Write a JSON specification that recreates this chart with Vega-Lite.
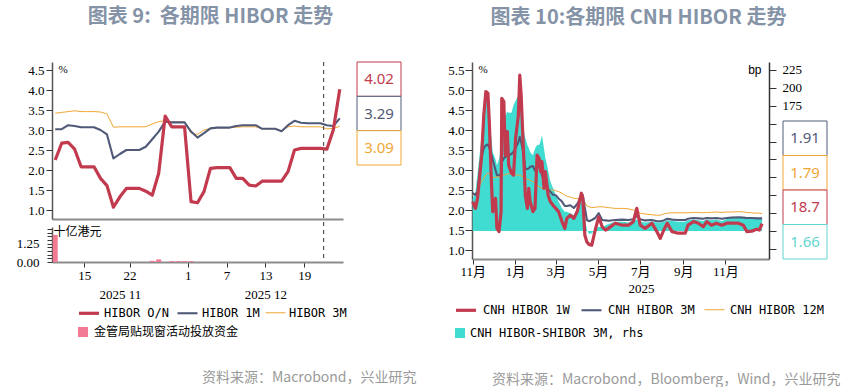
{
  "$schema": "https://vega.github.io/schema/vega-lite/v6.json",
  "background": "white",
  "padding": {"left": 16, "top": 7, "right": 0, "bottom": 0},
  "config": {
    "view": {"stroke": null},
    "font": "Noto Sans CJK SC",
    "axis": {"labelFont": "Liberation Serif, Noto Sans CJK SC", "labelFontSize": 13, "labelColor": "#000000", "grid": false, "tickColor": "#333333", "domainColor": "#555555", "labelFlush": false, "labelOverlap": false},
    "legend": {"orient": "none", "title": null, "padding": 0, "labelFont": "DejaVu Sans Mono, Noto Sans CJK SC", "labelFontSize": 12, "labelColor": "#000000", "labelLimit": 400, "direction": "horizontal"},
    "title": {"font": "Noto Sans CJK SC", "fontSize": 20, "fontWeight": "bold", "color": "#8593a7"}
  },
  "spacing": 30,
  "resolve": {"scale": {"color": "independent", "stroke": "independent", "fill": "independent", "strokeWidth": "independent"}, "legend": {"color": "independent", "stroke": "independent", "fill": "independent"}},
  "hconcat": [
    {
      "bounds": "flush",
      "spacing": 14,
      "resolve": {"scale": {"color": "independent", "stroke": "independent", "fill": "independent", "strokeWidth": "independent"}, "legend": {"color": "independent", "stroke": "independent", "fill": "independent"}},
      "hconcat": [
        {
          "width": 291,
          "height": 200,
          "title": {"text": "图表 9:\u00a0\u00a0各期限 HIBOR 走势", "anchor": "middle", "dx": 13, "offset": 34},
          "resolve": {"scale": {"y": "independent"}, "axis": {"x": "independent", "y": "independent"}},
          "layer": [
            {
              "data": {"values": [
                {"date": "2025-11-10T12:00:00", "value": 1.85},
                {"date": "2025-11-25T12:00:00", "value": 0.08},
                {"date": "2025-11-26T12:00:00", "value": 0.18},
                {"date": "2025-11-28T12:00:00", "value": 0.06},
                {"date": "2025-11-29T12:00:00", "value": 0.06},
                {"date": "2025-11-30T12:00:00", "value": 0.06},
                {"date": "2025-12-01T12:00:00", "value": 0.06}
              ]},
              "mark": {"type": "bar"},
              "encoding": {
                "x": {"field": "date", "type": "temporal",
                  "scale": {"domain": [{"year": 2025, "month": 11, "date": 10}, {"year": 2025, "month": 12, "date": 25}], "padding": 0},
                  "axis": {"orient": "bottom", "title": null, "format": "%-d",
                    "values": [{"year": 2025, "month": 11, "date": 15}, {"year": 2025, "month": 11, "date": 22}, {"year": 2025, "month": 12, "date": 1}, {"year": 2025, "month": 12, "date": 7}, {"year": 2025, "month": 12, "date": 13}, {"year": 2025, "month": 12, "date": 19}],
                    "domainColor": "#8c8c8c", "domainWidth": 2, "tickSize": 5, "labelPadding": 2}},
                "y": {"field": "value", "type": "quantitative",
                  "scale": {"domain": [0, 2.4], "range": [200, 165], "nice": false},
                  "axis": {"orient": "left", "values": [0, 0.25, 0.5, 0.75, 1, 1.25, 1.5, 1.75, 2, 2.25],
                    "labelExpr": "datum.value === 0 ? '0.00' : (datum.value === 1.25 ? '1.25' : '')",
                    "tickSize": 5, "labelPadding": 8, "domainWidth": 1.5,
                    "title": "十亿港元", "titleAngle": 0, "titleX": 1, "titleY": 169, "titleAlign": "left", "titleBaseline": "middle", "titleFont": "Noto Sans CJK SC", "titleFontSize": 12, "titleFontWeight": "normal", "titleColor": "#000000"}},
                "fill": {"datum": "hkma", "type": "nominal",
                  "scale": {"domain": ["hkma"], "range": ["#f27a93"]},
                  "legend": {"legendX": 25, "legendY": 264, "symbolType": "square", "symbolSize": 100, "symbolStrokeWidth": 0, "labelOffset": 5,
                    "labelExpr": "'金管局贴现窗活动投放资金'"}}
              }
            },
            {
              "data": {"values": [
                {"date": "2025-11-10T12:00:00", "on": 2.25, "m1": 3.02, "m3": 3.42},
                {"date": "2025-11-11T12:00:00", "on": 2.67, "m1": 3.02, "m3": 3.44},
                {"date": "2025-11-12T12:00:00", "on": 2.69, "m1": 3.12, "m3": 3.46},
                {"date": "2025-11-13T12:00:00", "on": 2.52, "m1": 3.10, "m3": 3.48},
                {"date": "2025-11-14T12:00:00", "on": 2.08, "m1": 3.07, "m3": 3.46},
                {"date": "2025-11-15T12:00:00", "on": 2.08, "m1": 3.07, "m3": 3.46},
                {"date": "2025-11-16T12:00:00", "on": 2.08, "m1": 3.07, "m3": 3.46},
                {"date": "2025-11-17T12:00:00", "on": 1.79, "m1": 3.00, "m3": 3.45},
                {"date": "2025-11-18T12:00:00", "on": 1.61, "m1": 2.89, "m3": 3.40},
                {"date": "2025-11-19T12:00:00", "on": 1.07, "m1": 2.29, "m3": 3.07},
                {"date": "2025-11-20T12:00:00", "on": 1.33, "m1": 2.40, "m3": 3.08},
                {"date": "2025-11-21T12:00:00", "on": 1.54, "m1": 2.50, "m3": 3.08},
                {"date": "2025-11-22T12:00:00", "on": 1.54, "m1": 2.50, "m3": 3.08},
                {"date": "2025-11-23T12:00:00", "on": 1.54, "m1": 2.50, "m3": 3.08},
                {"date": "2025-11-24T12:00:00", "on": 1.47, "m1": 2.58, "m3": 3.08},
                {"date": "2025-11-25T12:00:00", "on": 1.37, "m1": 2.77, "m3": 3.15},
                {"date": "2025-11-26T12:00:00", "on": 1.92, "m1": 2.96, "m3": 3.21},
                {"date": "2025-11-27T12:00:00", "on": 3.35, "m1": 3.21, "m3": 3.23},
                {"date": "2025-11-28T12:00:00", "on": 3.08, "m1": 3.19, "m3": 3.20},
                {"date": "2025-11-29T12:00:00", "on": 3.08, "m1": 3.19, "m3": 3.20},
                {"date": "2025-11-30T12:00:00", "on": 3.08, "m1": 3.19, "m3": 3.20},
                {"date": "2025-12-01T12:00:00", "on": 1.21, "m1": 2.96, "m3": 2.92},
                {"date": "2025-12-02T12:00:00", "on": 1.18, "m1": 2.81, "m3": 2.89},
                {"date": "2025-12-03T12:00:00", "on": 1.46, "m1": 2.92, "m3": 3.00},
                {"date": "2025-12-04T12:00:00", "on": 2.04, "m1": 3.04, "m3": 3.04},
                {"date": "2025-12-05T12:00:00", "on": 2.06, "m1": 3.06, "m3": 3.06},
                {"date": "2025-12-06T12:00:00", "on": 2.06, "m1": 3.06, "m3": 3.06},
                {"date": "2025-12-07T12:00:00", "on": 2.06, "m1": 3.06, "m3": 3.06},
                {"date": "2025-12-08T12:00:00", "on": 1.79, "m1": 3.10, "m3": 3.07},
                {"date": "2025-12-09T12:00:00", "on": 1.79, "m1": 3.12, "m3": 3.08},
                {"date": "2025-12-10T12:00:00", "on": 1.62, "m1": 3.12, "m3": 3.08},
                {"date": "2025-12-11T12:00:00", "on": 1.60, "m1": 3.12, "m3": 3.08},
                {"date": "2025-12-12T12:00:00", "on": 1.72, "m1": 3.03, "m3": 3.03},
                {"date": "2025-12-13T12:00:00", "on": 1.72, "m1": 3.03, "m3": 3.03},
                {"date": "2025-12-14T12:00:00", "on": 1.72, "m1": 3.03, "m3": 3.03},
                {"date": "2025-12-15T12:00:00", "on": 1.72, "m1": 2.97, "m3": 2.98},
                {"date": "2025-12-16T12:00:00", "on": 1.96, "m1": 3.12, "m3": 3.08},
                {"date": "2025-12-17T12:00:00", "on": 2.50, "m1": 3.23, "m3": 3.10},
                {"date": "2025-12-18T12:00:00", "on": 2.54, "m1": 3.18, "m3": 3.08},
                {"date": "2025-12-19T12:00:00", "on": 2.54, "m1": 3.17, "m3": 3.08},
                {"date": "2025-12-20T12:00:00", "on": 2.54, "m1": 3.17, "m3": 3.08},
                {"date": "2025-12-21T12:00:00", "on": 2.54, "m1": 3.17, "m3": 3.08},
                {"date": "2025-12-22T12:00:00", "on": 2.52, "m1": 3.12, "m3": 3.03},
                {"date": "2025-12-23T12:00:00", "on": 3.00, "m1": 3.10, "m3": 3.04},
                {"date": "2025-12-24T12:00:00", "on": 4.02, "m1": 3.29, "m3": 3.09}
              ]},
              "transform": [{"fold": ["m3", "m1", "on"], "as": ["series", "value"]}],
              "mark": {"type": "line", "strokeJoin": "round"},
              "encoding": {
                "x": {"field": "date", "type": "temporal",
                  "scale": {"domain": [{"year": 2025, "month": 11, "date": 10}, {"year": 2025, "month": 12, "date": 25}], "padding": 0},
                  "axis": {"orient": "bottom", "title": null, "labels": false, "ticks": false, "tickSize": 0, "offset": -43, "domainColor": "#8c8c8c", "domainWidth": 2}},
                "y": {"field": "value", "type": "quantitative",
                  "scale": {"domain": [0.775, 4.7], "range": [157, 0], "nice": false, "zero": false},
                  "axis": {"orient": "left", "values": [1, 1.5, 2, 2.5, 3, 3.5, 4, 4.5], "format": ".1f", "tickSize": 6, "labelPadding": 2, "domainWidth": 1.5,
                    "title": "%", "titleAngle": 0, "titleX": 6, "titleY": 7, "titleAlign": "left", "titleBaseline": "middle", "titleFont": "Liberation Serif", "titleFontSize": 11, "titleFontWeight": "normal", "titleColor": "#000000"}},
                "stroke": {"field": "series", "type": "nominal",
                  "scale": {"domain": ["on", "m1", "m3"], "range": ["#c23a4e", "#505a78", "#f0a634"]},
                  "legend": {"legendX": 25, "legendY": 239, "labelOffset": 3, "columnPadding": 3,
                    "symbolSize": 400, "symbolType": "stroke",
                    "labelExpr": "datum.label === 'on' ? 'HIBOR O/N' : (datum.label === 'm1' ? 'HIBOR 1M' : 'HIBOR 3M')",
                    "encode": {"symbols": {"update": {
                      "strokeWidth": {"signal": "datum.value === 'on' ? 3 : 1.5"}
                    }}}}},
                "strokeWidth": {"field": "series", "type": "nominal", "scale": {"domain": ["on", "m1", "m3"], "range": [3.2, 1, 1]}, "legend": null}
              }
            },
            {
              "data": {"values": [{"date": "2025-12-22T00:00:00"}]},
              "mark": {"type": "rule", "strokeDash": [4, 4], "color": "#555555", "strokeWidth": 1.2},
              "encoding": {
                "x": {"field": "date", "type": "temporal",
                  "scale": {"domain": [{"year": 2025, "month": 11, "date": 10}, {"year": 2025, "month": 12, "date": 25}], "padding": 0},
                  "axis": {"orient": "bottom", "title": null, "format": "%Y %m", "ticks": false, "tickSize": 0, "domain": false, "offset": 24, "labelPadding": 2,
                    "values": [{"year": 2025, "month": 11, "date": 20, "hours": 12}, {"year": 2025, "month": 12, "date": 13}]}}
              }
            }
          ]
        },
        {
          "width": 44,
          "height": 200,
          "title": {"text": "资料来源：Macrobond，兴业研究", "orient": "bottom", "anchor": "end", "offset": 109, "dx": 15, "fontSize": 14, "fontWeight": "normal", "color": "#9a9a9a"},
          "data": {"values": [{"series": "on", "label": "4.02"}, {"series": "m1", "label": "3.29"}, {"series": "m3", "label": "3.09"}]},
          "encoding": {"y": {"field": "label", "type": "nominal", "sort": null, "scale": {"range": [0, 103], "paddingInner": 0, "paddingOuter": 0}, "axis": null}},
          "layer": [
            {"mark": {"type": "rect", "fill": "white", "strokeWidth": 1},
             "encoding": {"stroke": {"field": "series", "type": "nominal", "scale": {"domain": ["on", "m1", "m3"], "range": ["#c23a4e", "#505a78", "#f0a634"]}, "legend": null}}},
            {"mark": {"type": "text", "font": "Noto Sans", "fontSize": 15},
             "encoding": {"color": {"field": "series", "type": "nominal", "scale": {"domain": ["on", "m1", "m3"], "range": ["#c23a4e", "#505a78", "#f0a634"]}, "legend": null}, "text": {"field": "label"}}}
          ]
        }
      ]
    },
    {
      "bounds": "flush",
      "spacing": 14,
      "resolve": {"scale": {"color": "independent", "stroke": "independent", "fill": "independent", "strokeWidth": "independent"}, "legend": {"color": "independent", "stroke": "independent", "fill": "independent"}},
      "hconcat": [
        {
          "width": 297,
          "height": 197,
          "title": {"text": "图表 10:各期限 CNH HIBOR 走势", "anchor": "middle", "dx": 18, "offset": 34},
          "data": {"values": [
            {"date": "2024-11-01", "w1": 2.21, "m3": 2.42, "m12": 2.37, "spread": 45},
            {"date": "2024-11-05", "w1": 2.04, "m3": 2.38, "m12": 2.42, "spread": 55},
            {"date": "2024-11-08", "w1": 2.29, "m3": 2.45, "m12": 2.48, "spread": 80},
            {"date": "2024-11-12", "w1": 3.0, "m3": 3.12, "m12": 2.65, "spread": 116},
            {"date": "2024-11-14", "w1": 3.37, "m3": 3.35, "m12": 2.72, "spread": 135},
            {"date": "2024-11-17", "w1": 4.37, "m3": 3.54, "m12": 2.79, "spread": 162},
            {"date": "2024-11-20", "w1": 4.96, "m3": 3.62, "m12": 2.88, "spread": 195},
            {"date": "2024-11-23", "w1": 4.92, "m3": 3.64, "m12": 2.92, "spread": 185},
            {"date": "2024-11-25", "w1": 4.2, "m3": 3.55, "m12": 2.9, "spread": 165},
            {"date": "2024-11-28", "w1": 2.71, "m3": 3.4, "m12": 2.85, "spread": 130},
            {"date": "2024-11-30", "w1": 1.96, "m3": 3.25, "m12": 2.8, "spread": 110},
            {"date": "2024-12-04", "w1": 2.29, "m3": 3.0, "m12": 2.82, "spread": 100},
            {"date": "2024-12-06", "w1": 1.54, "m3": 2.87, "m12": 2.83, "spread": 92},
            {"date": "2024-12-09", "w1": 1.46, "m3": 2.87, "m12": 2.83, "spread": 100},
            {"date": "2024-12-12", "w1": 1.96, "m3": 2.9, "m12": 2.85, "spread": 118},
            {"date": "2024-12-13", "w1": 4.79, "m3": 3.2, "m12": 2.86, "spread": 181},
            {"date": "2024-12-16", "w1": 4.71, "m3": 3.29, "m12": 2.87, "spread": 170},
            {"date": "2024-12-18", "w1": 3.37, "m3": 3.33, "m12": 2.88, "spread": 160},
            {"date": "2024-12-21", "w1": 3.96, "m3": 3.37, "m12": 2.9, "spread": 167},
            {"date": "2024-12-23", "w1": 3.12, "m3": 3.37, "m12": 2.91, "spread": 165},
            {"date": "2024-12-27", "w1": 2.92, "m3": 3.4, "m12": 2.9, "spread": 165},
            {"date": "2024-12-30", "w1": 2.87, "m3": 3.46, "m12": 2.88, "spread": 176},
            {"date": "2025-01-02", "w1": 3.79, "m3": 3.55, "m12": 2.88, "spread": 182},
            {"date": "2025-01-06", "w1": 4.37, "m3": 3.7, "m12": 2.87, "spread": 190},
            {"date": "2025-01-08", "w1": 5.37, "m3": 3.83, "m12": 2.87, "spread": 209},
            {"date": "2025-01-10", "w1": 4.87, "m3": 3.7, "m12": 2.85, "spread": 175},
            {"date": "2025-01-13", "w1": 3.62, "m3": 3.45, "m12": 2.83, "spread": 145},
            {"date": "2025-01-16", "w1": 2.37, "m3": 3.04, "m12": 2.79, "spread": 130},
            {"date": "2025-01-19", "w1": 2.04, "m3": 3.02, "m12": 2.77, "spread": 120},
            {"date": "2025-01-21", "w1": 2.54, "m3": 3.04, "m12": 2.76, "spread": 116},
            {"date": "2025-01-23", "w1": 2.21, "m3": 3.08, "m12": 2.74, "spread": 110},
            {"date": "2025-01-27", "w1": 1.96, "m3": 3.1, "m12": 2.71, "spread": 106},
            {"date": "2025-01-30", "w1": 2.04, "m3": 2.98, "m12": 2.68, "spread": 115},
            {"date": "2025-02-02", "w1": 3.37, "m3": 3.05, "m12": 2.62, "spread": 120},
            {"date": "2025-02-05", "w1": 3.29, "m3": 3.12, "m12": 2.58, "spread": 120},
            {"date": "2025-02-07", "w1": 2.96, "m3": 3.0, "m12": 2.56, "spread": 125},
            {"date": "2025-02-09", "w1": 3.21, "m3": 2.87, "m12": 2.54, "spread": 134},
            {"date": "2025-02-12", "w1": 2.54, "m3": 2.75, "m12": 2.52, "spread": 115},
            {"date": "2025-02-14", "w1": 2.96, "m3": 2.62, "m12": 2.5, "spread": 102},
            {"date": "2025-02-18", "w1": 2.37, "m3": 2.52, "m12": 2.5, "spread": 85},
            {"date": "2025-02-21", "w1": 2.21, "m3": 2.46, "m12": 2.5, "spread": 70},
            {"date": "2025-02-25", "w1": 2.12, "m3": 2.38, "m12": 2.5, "spread": 60},
            {"date": "2025-03-01", "w1": 2.04, "m3": 2.37, "m12": 2.48, "spread": 50},
            {"date": "2025-03-05", "w1": 1.96, "m3": 2.29, "m12": 2.46, "spread": 41},
            {"date": "2025-03-10", "w1": 1.71, "m3": 2.21, "m12": 2.42, "spread": 32},
            {"date": "2025-03-14", "w1": 1.54, "m3": 2.1, "m12": 2.37, "spread": 27},
            {"date": "2025-03-17", "w1": 1.79, "m3": 2.1, "m12": 2.35, "spread": 27},
            {"date": "2025-03-22", "w1": 1.87, "m3": 2.12, "m12": 2.32, "spread": 25},
            {"date": "2025-03-27", "w1": 1.79, "m3": 2.05, "m12": 2.29, "spread": 22},
            {"date": "2025-04-01", "w1": 1.96, "m3": 2.15, "m12": 2.29, "spread": 30},
            {"date": "2025-04-04", "w1": 2.2, "m3": 2.25, "m12": 2.29, "spread": 41},
            {"date": "2025-04-07", "w1": 2.42, "m3": 2.35, "m12": 2.3, "spread": 50},
            {"date": "2025-04-09", "w1": 2.3, "m3": 2.37, "m12": 2.28, "spread": 45},
            {"date": "2025-04-12", "w1": 1.37, "m3": 2.05, "m12": 2.2, "spread": 20},
            {"date": "2025-04-15", "w1": 1.2, "m3": 1.75, "m12": 2.1, "spread": 2},
            {"date": "2025-04-18", "w1": 1.14, "m3": 1.72, "m12": 2.08, "spread": -4},
            {"date": "2025-04-22", "w1": 1.12, "m3": 1.75, "m12": 2.06, "spread": -3},
            {"date": "2025-04-27", "w1": 1.5, "m3": 1.8, "m12": 2.07, "spread": 2},
            {"date": "2025-05-02", "w1": 1.83, "m3": 1.92, "m12": 2.08, "spread": 6},
            {"date": "2025-05-07", "w1": 1.58, "m3": 1.75, "m12": 2.08, "spread": 5},
            {"date": "2025-05-12", "w1": 1.5, "m3": 1.74, "m12": 2.07, "spread": 8},
            {"date": "2025-05-16", "w1": 1.54, "m3": 1.73, "m12": 2.06, "spread": 10},
            {"date": "2025-05-26", "w1": 1.67, "m3": 1.75, "m12": 2.04, "spread": 13},
            {"date": "2025-06-05", "w1": 1.62, "m3": 1.76, "m12": 2.04, "spread": 13},
            {"date": "2025-06-14", "w1": 1.62, "m3": 1.75, "m12": 2.03, "spread": 12},
            {"date": "2025-06-21", "w1": 1.71, "m3": 1.77, "m12": 2.0, "spread": 14},
            {"date": "2025-06-26", "w1": 2.04, "m3": 1.85, "m12": 2.0, "spread": 16},
            {"date": "2025-07-01", "w1": 1.62, "m3": 1.77, "m12": 1.92, "spread": 13},
            {"date": "2025-07-08", "w1": 1.54, "m3": 1.74, "m12": 1.9, "spread": 12},
            {"date": "2025-07-18", "w1": 1.67, "m3": 1.75, "m12": 1.88, "spread": 13},
            {"date": "2025-07-25", "w1": 1.46, "m3": 1.72, "m12": 1.87, "spread": 12},
            {"date": "2025-07-30", "w1": 1.29, "m3": 1.72, "m12": 1.87, "spread": 12},
            {"date": "2025-08-04", "w1": 1.5, "m3": 1.74, "m12": 1.9, "spread": 13},
            {"date": "2025-08-09", "w1": 1.67, "m3": 1.78, "m12": 1.92, "spread": 15},
            {"date": "2025-08-16", "w1": 1.46, "m3": 1.76, "m12": 1.93, "spread": 14},
            {"date": "2025-08-25", "w1": 1.42, "m3": 1.75, "m12": 1.93, "spread": 13},
            {"date": "2025-09-04", "w1": 1.42, "m3": 1.75, "m12": 1.93, "spread": 13},
            {"date": "2025-09-08", "w1": 1.62, "m3": 1.78, "m12": 1.93, "spread": 15},
            {"date": "2025-09-16", "w1": 1.71, "m3": 1.8, "m12": 1.94, "spread": 16},
            {"date": "2025-09-23", "w1": 1.67, "m3": 1.79, "m12": 1.94, "spread": 15},
            {"date": "2025-09-30", "w1": 1.58, "m3": 1.78, "m12": 1.93, "spread": 14},
            {"date": "2025-10-05", "w1": 1.71, "m3": 1.8, "m12": 1.94, "spread": 16},
            {"date": "2025-10-12", "w1": 1.62, "m3": 1.79, "m12": 1.94, "spread": 15},
            {"date": "2025-10-19", "w1": 1.67, "m3": 1.8, "m12": 1.95, "spread": 16},
            {"date": "2025-10-27", "w1": 1.62, "m3": 1.78, "m12": 1.94, "spread": 14},
            {"date": "2025-11-03", "w1": 1.67, "m3": 1.8, "m12": 1.95, "spread": 17},
            {"date": "2025-11-10", "w1": 1.67, "m3": 1.81, "m12": 1.95, "spread": 18},
            {"date": "2025-11-20", "w1": 1.67, "m3": 1.82, "m12": 1.96, "spread": 19},
            {"date": "2025-11-27", "w1": 1.62, "m3": 1.81, "m12": 1.95, "spread": 18},
            {"date": "2025-12-02", "w1": 1.46, "m3": 1.8, "m12": 1.94, "spread": 19},
            {"date": "2025-12-09", "w1": 1.47, "m3": 1.8, "m12": 1.93, "spread": 19},
            {"date": "2025-12-16", "w1": 1.52, "m3": 1.79, "m12": 1.92, "spread": 19},
            {"date": "2025-12-20", "w1": 1.5, "m3": 1.79, "m12": 1.92, "spread": 18},
            {"date": "2025-12-24", "w1": 1.66, "m3": 1.79, "m12": 1.91, "spread": 18.7}
          ]},
          "resolve": {"scale": {"y": "independent"}, "axis": {"x": "independent", "y": "independent"}},
          "layer": [
            {
              "mark": {"type": "area"},
              "encoding": {
                "x": {"field": "date", "type": "temporal",
                  "scale": {"domain": [{"year": 2024, "month": 10, "date": 31}, {"year": 2026, "month": 1, "date": 3}], "padding": 0},
                  "axis": {"orient": "bottom", "title": null, "format": "%-m月",
                    "values": [{"year": 2024, "month": 11, "date": 1}, {"year": 2025, "month": 1, "date": 1}, {"year": 2025, "month": 3, "date": 1}, {"year": 2025, "month": 5, "date": 1}, {"year": 2025, "month": 7, "date": 1}, {"year": 2025, "month": 9, "date": 1}, {"year": 2025, "month": 11, "date": 1}],
                    "domainColor": "#8c8c8c", "domainWidth": 2, "tickSize": 5, "labelPadding": 1}},
                "y": {"field": "spread", "type": "quantitative",
                  "scale": {"domain": [-39, 236], "nice": false},
                  "axis": {"orient": "right", "values": [-25, 0, 25, 50, 75, 100, 125, 150, 175, 200, 225], "labelExpr": "datum.value >= 175 ? datum.label : ''", "tickSize": 7, "labelPadding": 6, "domainWidth": 1.5, "domainColor": "#333333",
                    "title": "bp", "titleAngle": 0, "titleX": -8, "titleY": 7, "titleAlign": "right", "titleBaseline": "middle", "titleFont": "Liberation Sans", "titleFontSize": 12, "titleFontWeight": "normal", "titleColor": "#000000"}},
                "fill": {"datum": "spread", "type": "nominal",
                  "scale": {"domain": ["spread"], "range": ["#40dcd2"]},
                  "legend": {"legendX": -18, "legendY": 265, "symbolType": "square", "symbolSize": 100, "symbolStrokeWidth": 0, "labelOffset": 4,
                    "labelExpr": "'CNH HIBOR-SHIBOR 3M, rhs'"}}
              }
            },
            {
              "transform": [{"fold": ["m12", "m3", "w1"], "as": ["series", "value"]}],
              "mark": {"type": "line", "strokeJoin": "round"},
              "encoding": {
                "x": {"field": "date", "type": "temporal",
                  "scale": {"domain": [{"year": 2024, "month": 10, "date": 31}, {"year": 2026, "month": 1, "date": 3}], "padding": 0},
                  "axis": {"orient": "bottom", "title": null, "format": "%Y", "ticks": false, "tickSize": 0, "domain": false, "offset": 22, "labelPadding": 1,
                    "values": [{"year": 2025, "month": 7, "date": 2}]}},
                "y": {"field": "value", "type": "quantitative",
                  "scale": {"domain": [0.775, 5.7], "nice": false, "zero": false},
                  "axis": {"orient": "left", "values": [1, 1.5, 2, 2.5, 3, 3.5, 4, 4.5, 5, 5.5], "format": ".1f", "tickSize": 7, "labelPadding": 1, "domainWidth": 1.5,
                    "title": "%", "titleAngle": 0, "titleX": 6, "titleY": 7, "titleAlign": "left", "titleBaseline": "middle", "titleFont": "Liberation Serif", "titleFontSize": 11, "titleFontWeight": "normal", "titleColor": "#000000"}},
                "stroke": {"field": "series", "type": "nominal",
                  "scale": {"domain": ["w1", "m3", "m12"], "range": ["#c23a4e", "#505a78", "#f0a634"]},
                  "legend": {"legendX": -18, "legendY": 236, "labelOffset": 5, "columnPadding": 7,
                    "symbolSize": 400, "symbolType": "stroke",
                    "labelExpr": "datum.label === 'w1' ? 'CNH HIBOR 1W' : (datum.label === 'm3' ? 'CNH HIBOR 3M' : 'CNH HIBOR 12M')",
                    "encode": {"symbols": {"update": {
                      "strokeWidth": {"signal": "datum.value === 'w1' ? 3 : 1.5"}
                    }}}}},
                "strokeWidth": {"field": "series", "type": "nominal", "scale": {"domain": ["w1", "m3", "m12"], "range": [3.2, 1, 1]}, "legend": null}
              }
            }
          ]
        },
        {
          "width": 44,
          "height": 197,
          "title": {"text": "资料来源：Macrobond，Bloomberg，Wind，兴业研究", "orient": "bottom", "anchor": "end", "offset": 113, "dx": 13, "fontSize": 14, "fontWeight": "normal", "color": "#9a9a9a"},
          "data": {"values": [{"series": "m3", "label": "1.91"}, {"series": "m12", "label": "1.79"}, {"series": "w1", "label": "18.7"}, {"series": "spread", "label": "1.66"}]},
          "encoding": {"y": {"field": "label", "type": "nominal", "sort": null, "scale": {"range": [59, 197], "paddingInner": 0, "paddingOuter": 0}, "axis": null}},
          "layer": [
            {"mark": {"type": "rect", "fill": "white", "strokeWidth": 1},
             "encoding": {"stroke": {"field": "series", "type": "nominal", "scale": {"domain": ["w1", "m3", "m12", "spread"], "range": ["#c23a4e", "#505a78", "#f0a634", "#62d6d0"]}, "legend": null}}},
            {"mark": {"type": "text", "font": "Noto Sans", "fontSize": 15},
             "encoding": {"color": {"field": "series", "type": "nominal", "scale": {"domain": ["w1", "m3", "m12", "spread"], "range": ["#c23a4e", "#505a78", "#f0a634", "#62d6d0"]}, "legend": null}, "text": {"field": "label"}}}
          ]
        }
      ]
    }
  ]
}
